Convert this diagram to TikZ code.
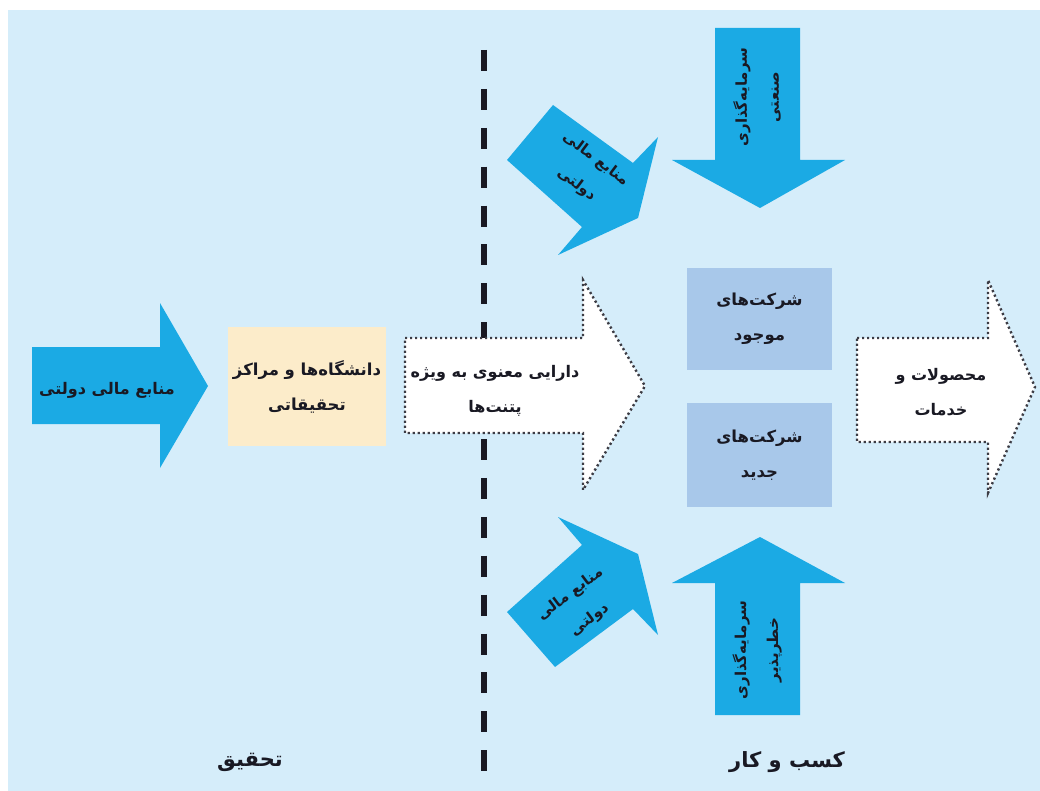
\documentclass[tikz,border=0pt]{standalone}
\usepackage{fontspec}
\newfontfamily\fa[Script=Arabic]{DejaVu Sans}
\TeXXeTstate=1
\newcommand\rtxt[1]{\beginR#1\endR}
\definecolor{bg}{RGB}{213,237,250}
\definecolor{arrowblue}{RGB}{27,170,228}
\definecolor{beige}{RGB}{252,236,202}
\definecolor{boxblue}{RGB}{168,200,234}
\definecolor{ink}{RGB}{25,25,35}
\begin{document}
\begin{tikzpicture}[x=1pt,y=-1pt,
  bluearrow/.style={fill=arrowblue,draw=none},
  dotarrow/.style={fill=white,draw=ink!85,line width=2.4pt,dash pattern=on 2.2pt off 2.8pt},
  lbl/.style={font=\fa\bfseries\fontsize{16}{35}\selectfont,text=ink,align=center,inner sep=0pt},
  smalllbl/.style={font=\fa\bfseries\fontsize{15}{32}\selectfont,text=ink,align=center,inner sep=0pt},
  biglbl/.style={font=\fa\bfseries\fontsize{21}{25}\selectfont,text=ink,inner sep=0pt},
  boxnode/.style={draw=none,inner sep=0pt,align=center,text=ink,font=\fa\bfseries\fontsize{16.5}{35}\selectfont}]
\useasboundingbox (0,0) rectangle (1040,791);
\fill[white] (0,0) rectangle (1040,791);
\fill[bg] (8,10) rectangle (1040,791);
% divider
\draw[ink, line width=6pt, dash pattern=on 21pt off 17.9pt] (484,50) -- (484,771);
% left arrow
\fill[bluearrow] (32,347) -- (160,347) -- (160,303) -- (208,386) -- (160,468) -- (160,424) -- (32,424) -- cycle;
\node[lbl] (gov1) at (107,390) {\rtxt{منابع مالی دولتی}};
% university box
\node[boxnode, fill=beige, minimum width=158pt, minimum height=119pt] (univ) at (307,386.5)
  {\rtxt{دانشگاه‌ها و مراکز}\\\rtxt{تحقیقاتی}};
% intellectual property arrow
\draw[dotarrow] (405,338) -- (583,338) -- (583,280) -- (645,386) -- (583,490) -- (583,433) -- (405,433) -- cycle;
\node[lbl] (ip) at (495,391) {\rtxt{دارایی معنوی به ویژه}\\\rtxt{پتنت‌ها}};
% firms
\node[boxnode, fill=boxblue, minimum width=145pt, minimum height=102pt] (firm1) at (759.5,319)
  {\rtxt{شرکت‌های}\\\rtxt{موجود}};
\node[boxnode, fill=boxblue, minimum width=145pt, minimum height=104pt] (firm2) at (759.5,455)
  {\rtxt{شرکت‌های}\\\rtxt{جدید}};
% products arrow
\draw[dotarrow] (857,338) -- (988,338) -- (988,280) -- (1035,387) -- (988,493) -- (988,442) -- (857,442) -- cycle;
\node[lbl] (prod) at (941,392) {\rtxt{محصولات و}\\\rtxt{خدمات}};
% top diagonal arrow
\fill[bluearrow] (553,105) -- (633,163) -- (658,137) -- (638,218) -- (558,255) -- (582,227) -- (507,160) -- cycle;
\node[smalllbl, rotate=-37] (gov2) at (586,172) {\rtxt{منابع مالی}\\\rtxt{دولتی}};
% bottom diagonal arrow
\fill[bluearrow] (555,667) -- (633,609) -- (658,635) -- (638,554) -- (558,517) -- (582,545) -- (507,612) -- cycle;
\node[smalllbl, rotate=37] (gov3) at (580,607) {\rtxt{منابع مالی}\\\rtxt{دولتی}};
% top vertical arrow
\fill[bluearrow] (715,28) -- (800,28) -- (800,160) -- (845,160) -- (760,208) -- (672,160) -- (715,160) -- cycle;
\node[smalllbl, rotate=90] (ind) at (757,97) {\rtxt{سرمایه‌گذاری}\\\rtxt{صنعتی}};
% bottom vertical arrow
\fill[bluearrow] (760,537) -- (845,583) -- (800,583) -- (800,715) -- (715,715) -- (715,583) -- (672,583) -- cycle;
\node[smalllbl, rotate=90] (vc) at (757,650) {\rtxt{سرمایه‌گذاری}\\\rtxt{خطرپذیر}};
% section labels
\node[biglbl] (research) at (250,762) {\rtxt{تحقیق}};
\node[biglbl] (business) at (787,762) {\rtxt{کسب و کار}};
\end{tikzpicture}
\end{document}
